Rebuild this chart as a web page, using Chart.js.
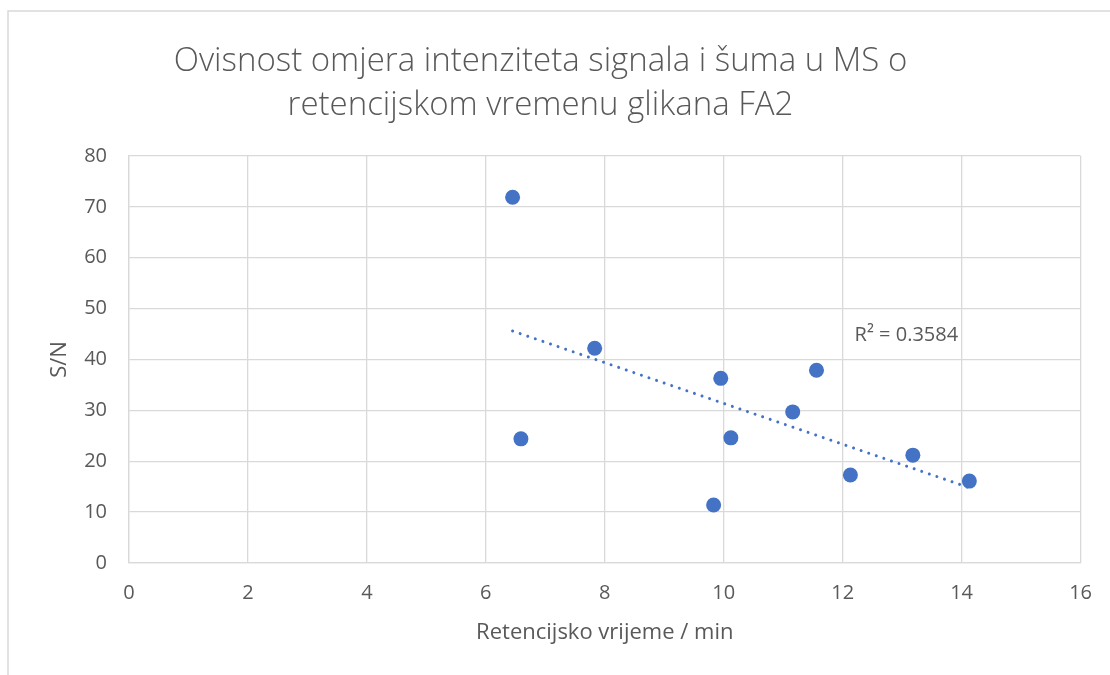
<!DOCTYPE html>
<html>
<head>
<meta charset="utf-8">
<script src="https://cdn.jsdelivr.net/npm/chart.js@4.4.1/dist/chart.umd.min.js"></script>
<style>
  html, body { margin: 0; padding: 0; background: #ffffff; }
  #wrap { width: 1110px; height: 675px; position: relative; }
</style>
</head>
<body>
<div id="wrap"><canvas id="c" width="1110" height="675"></canvas></div>
<script>
// ---- data ----
const retentionTime = [6.45, 6.59, 7.83, 9.95, 9.83, 10.12, 11.16, 11.56, 12.13, 13.18, 14.13];
const signalToNoise = [71.9, 24.4, 42.2, 36.3, 11.4, 24.6, 29.7, 37.9, 17.3, 21.2, 16.1];
const trendX = [6.45, 14.13];
const trendY = [45.6, 14.8];
const rSquaredLabel = 'R² = 0.3584';
const titleLines = ['Ovisnost omjera intenziteta signala i šuma u MS o', 'retencijskom vremenu glikana FA2'];
const xAxisTitle = 'Retencijsko vrijeme / min';
const yAxisTitle = 'S/N';
const xTicks = [0, 2, 4, 6, 8, 10, 12, 14, 16];
const yTicks = [0, 10, 20, 30, 40, 50, 60, 70, 80];

const FONT = "'Open Sans', 'Noto Sans', sans-serif";
const TXT = '#595959';
const GRID = '#d9d9d9';
const BLUE = '#4472C4';

const scatterData = retentionTime.map((x, i) => ({ x: x, y: signalToNoise[i] }));
const trendData = trendX.map((x, i) => ({ x: x, y: trendY[i] }));

const decor = {
  id: 'decor',
  beforeDraw(chart) {
    const ctx = chart.ctx;
    ctx.save();
    ctx.fillStyle = '#ffffff';
    ctx.fillRect(0, 0, chart.width, chart.height);
    ctx.strokeStyle = GRID;
    ctx.lineWidth = 1.5;
    ctx.beginPath();
    ctx.moveTo(8, chart.height);
    ctx.lineTo(8, 11);
    ctx.lineTo(chart.width, 11);
    ctx.stroke();
    ctx.restore();
  },
  afterDatasetsDraw(chart) {
    const ctx = chart.ctx;
    const xs = chart.scales.x, ys = chart.scales.y;
    ctx.save();
    ctx.fillStyle = TXT;
    ctx.font = '20px ' + FONT;
    ctx.textAlign = 'left';
    ctx.textBaseline = 'middle';
    ctx.fillText(rSquaredLabel, xs.getPixelForValue(12.2), ys.getPixelForValue(44.8));
    ctx.restore();
  }
};

new Chart(document.getElementById('c'), {
  type: 'scatter',
  data: {
    datasets: [
      {
        label: 'S/N',
        data: scatterData,
        backgroundColor: BLUE,
        borderColor: BLUE,
        pointRadius: 7.5,
        pointHoverRadius: 7.5,
        borderWidth: 0,
        order: 1
      },
      {
        label: 'trend',
        type: 'line',
        data: trendData,
        borderColor: BLUE,
        borderWidth: 3,
        borderDash: [0.01, 8],
        borderCapStyle: 'round',
        pointRadius: 0,
        fill: false,
        showLine: true,
        order: 2
      }
    ]
  },
  options: {
    responsive: false,
    animation: false,
    events: [],
    layout: { padding: { left: 0, right: 29, top: 0, bottom: 0 } },
    plugins: {
      legend: { display: false },
      tooltip: { enabled: false },
      title: {
        display: true,
        text: titleLines,
        color: TXT,
        font: { family: FONT, size: 33, weight: '300', lineHeight: 44 / 33 },
        padding: { top: 40, bottom: 28 }
      }
    },
    scales: {
      x: {
        type: 'linear',
        min: 0, max: 16,
        afterBuildTicks(scale) { scale.ticks = xTicks.map(v => ({ value: v })); },
        afterFit(scale) { scale.height = 112; },
        grid: { color: GRID, lineWidth: 1.3, drawTicks: false },
        border: { color: GRID, width: 1.3 },
        ticks: { color: TXT, font: { family: FONT, size: 20 }, padding: 18, maxRotation: 0 },
        title: { display: true, text: xAxisTitle, color: TXT, font: { family: FONT, size: 22 }, padding: { top: 0, bottom: 29 } }
      },
      y: {
        type: 'linear',
        min: 0, max: 80,
        afterBuildTicks(scale) { scale.ticks = yTicks.map(v => ({ value: v })); },
        afterFit(scale) { scale.width = 129; },
        grid: { color: GRID, lineWidth: 1.3, drawTicks: false },
        border: { color: GRID, width: 1.3 },
        ticks: { color: TXT, font: { family: FONT, size: 20 }, padding: 22 },
        title: { display: true, text: yAxisTitle, color: TXT, font: { family: FONT, size: 22 }, padding: { top: 47, bottom: 0 } }
      }
    }
  },
  plugins: [decor]
});
</script>
</body>
</html>
